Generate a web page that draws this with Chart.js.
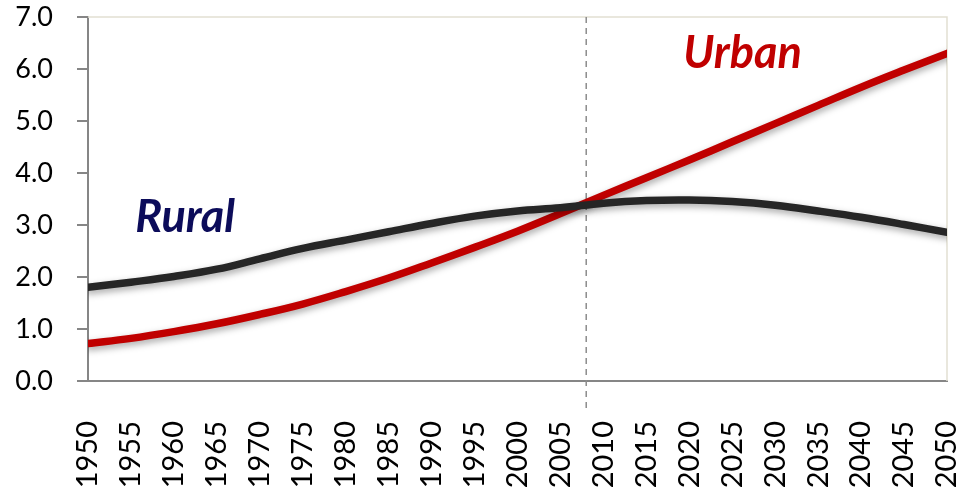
<!DOCTYPE html>
<html>
<head>
<meta charset="utf-8">
<script src="https://cdn.jsdelivr.net/npm/chart.js@4.4.0/dist/chart.umd.min.js"></script>
<style>
  html, body { margin: 0; padding: 0; background: #fff; }
  #wrap { width: 959px; height: 487px; position: relative; }
</style>
</head>
<body>
<div id="wrap"><canvas id="chart"></canvas></div>
<script>
// Urban / rural population (billions), 1950-2050
const years = [1950, 1955, 1960, 1965, 1970, 1975, 1980, 1985, 1990, 1995, 2000,
               2005, 2010, 2015, 2020, 2025, 2030, 2035, 2040, 2045, 2050];
const rural = [1.80, 1.90, 2.01, 2.15, 2.35, 2.55, 2.71, 2.87, 3.03, 3.17, 3.27,
               3.33, 3.42, 3.47, 3.48, 3.45, 3.38, 3.27, 3.15, 3.01, 2.86];
const urban = [0.72, 0.82, 0.95, 1.10, 1.28, 1.48, 1.72, 1.98, 2.27, 2.57, 2.88,
               3.22, 3.57, 3.91, 4.25, 4.60, 4.95, 5.30, 5.65, 5.98, 6.30];
const yTicks = [0, 1, 2, 3, 4, 5, 6, 7];
const markerYear = 2008;

const toPoints = arr => arr.map((v, i) => ({ x: years[i], y: v }));

// shadow under the lines
const shadowPlugin = {
    id: 'shadow',
    beforeDatasetDraw(chart) {
        const ctx = chart.ctx;
        ctx.save();
        ctx.shadowColor = 'rgba(0,0,0,0.35)';
        ctx.shadowBlur = 7;
        ctx.shadowOffsetX = 1;
        ctx.shadowOffsetY = 3;
    },
    afterDatasetDraw(chart) {
        chart.ctx.restore();
    }
};

// frame, dashed marker and labels
const decorPlugin = {
    id: 'decor',
    beforeDatasetsDraw(chart) {
        const { ctx, chartArea: a, scales: { x } } = chart;
        ctx.save();
        ctx.strokeStyle = '#e2dfd2';
        ctx.lineWidth = 1.5;
        ctx.beginPath();
        ctx.moveTo(a.left, a.top);
        ctx.lineTo(a.right, a.top);
        ctx.lineTo(a.right, a.bottom);
        ctx.stroke();

        const px = x.getPixelForValue(markerYear);
        ctx.strokeStyle = '#8c8c8c';
        ctx.lineWidth = 1.5;
        ctx.setLineDash([6, 5]);
        ctx.beginPath();
        ctx.moveTo(px, a.top);
        ctx.lineTo(px, a.bottom + 27);
        ctx.stroke();
        ctx.restore();
    },
    afterDatasetsDraw(chart) {
        const { ctx, scales: { x, y } } = chart;
        ctx.save();
        ctx.font = 'italic bold 45px Lato';
        ctx.textAlign = 'left';
        ctx.textBaseline = 'alphabetic';
        ctx.fillStyle = '#c00000';
        ctx.fillText('Urban', x.getPixelForValue(2019.3), y.getPixelForValue(6.02));
        ctx.fillStyle = '#0c0c5a';
        ctx.fillText('Rural', x.getPixelForValue(1955.5), y.getPixelForValue(2.87));
        ctx.restore();
    }
};

new Chart(document.getElementById('chart').getContext('2d'), {
    type: 'line',
    data: {
        datasets: [{
            label: 'Rural',
            data: toPoints(rural),
            borderColor: '#262626',
            borderWidth: 7.5,
            borderCapStyle: 'round',
            pointRadius: 0,
            tension: 0.4
        }, {
            label: 'Urban',
            data: toPoints(urban),
            borderColor: '#c00000',
            borderWidth: 7.5,
            borderCapStyle: 'round',
            pointRadius: 0,
            tension: 0.4
        }]
    },
    options: {
        responsive: true,
        maintainAspectRatio: false,
        animation: false,
        layout: { padding: { top: 17, right: 12, left: 0, bottom: 0 } },
        plugins: { legend: { display: false }, tooltip: { enabled: false } },
        scales: {
            x: {
                type: 'linear',
                min: years[0],
                max: years[years.length - 1],
                afterFit(scale) {
                    scale.height = 106;
                    scale.paddingLeft = 0;
                    scale.paddingRight = 0;
                },
                afterBuildTicks(scale) { scale.ticks = years.map(v => ({ value: v })); },
                grid: { display: false, drawTicks: false },
                border: { color: '#868686', width: 2 },
                ticks: {
                    color: '#000',
                    font: { family: 'Lato', size: 29 },
                    padding: 40,
                    minRotation: 90,
                    maxRotation: 90,
                    autoSkip: false,
                    callback: v => String(v)
                }
            },
            y: {
                min: 0,
                max: 7,
                afterFit(scale) {
                    scale.width = 88;
                    scale.paddingTop = 0;
                    scale.paddingBottom = 0;
                },
                afterBuildTicks(scale) { scale.ticks = yTicks.map(v => ({ value: v })); },
                grid: { drawOnChartArea: false, drawTicks: true, tickLength: 11, color: '#868686', lineWidth: 2 },
                border: { color: '#868686', width: 2 },
                ticks: {
                    color: '#000',
                    font: { family: 'Lato', size: 27 },
                    padding: 24,
                    callback: v => v.toFixed(1)
                }
            }
        }
    },
    plugins: [shadowPlugin, decorPlugin]
});
</script>
</body>
</html>
